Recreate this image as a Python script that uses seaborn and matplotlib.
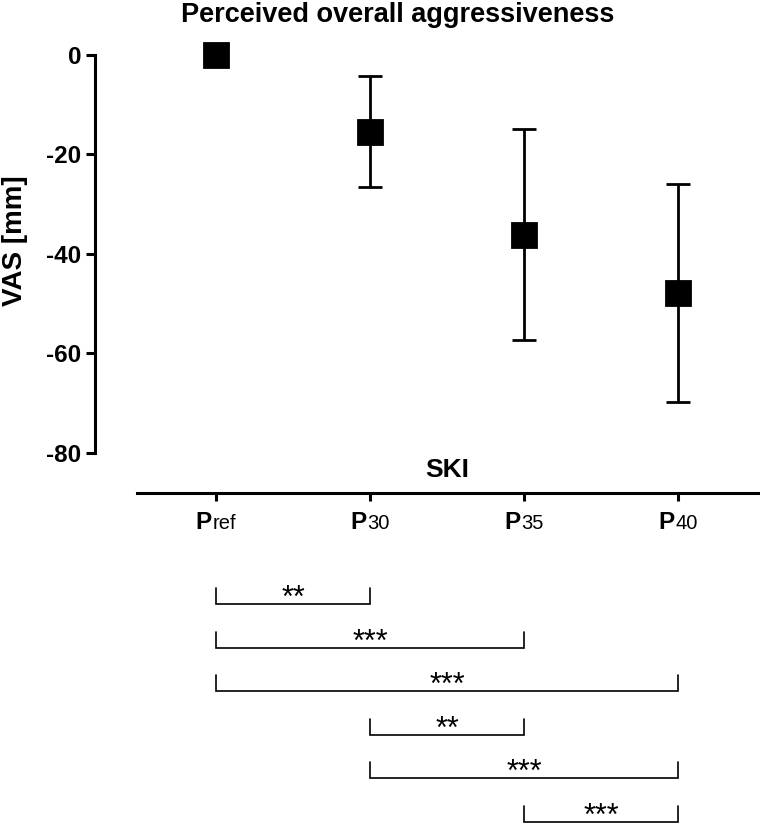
"""
Perceived overall aggressiveness per ski (VAS difference to reference),
with mean +/- SD and pairwise significance brackets below the axis.
"""
import matplotlib
matplotlib.use("Agg")
import matplotlib.pyplot as plt
from matplotlib.offsetbox import AnnotationBbox, HPacker, TextArea
import numpy as np
import pandas as pd
import seaborn as sns

# data
skis = ["Pref", "P30", "P35", "P40"]
label_main = ["P", "P", "P", "P"]
label_sub = ["ref", "30", "35", "40"]
vas_mean = [0.0, -15.4, -36.1, -47.8]
vas_sd = [0.0, 11.1, 21.2, 21.9]
yticks = [0, -20, -40, -60, -80]

# significance comparisons (index pairs into skis)
pairs = [(0, 1), (0, 2), (0, 3), (1, 2), (1, 3), (2, 3)]
stars = ["**", "***", "***", "**", "***", "***"]

sns.set_theme(style="white")
plt.rcParams["font.family"] = ["Liberation Sans", "DejaVu Sans"]

df = pd.DataFrame({"ski": skis, "vas": vas_mean, "sd": vas_sd})

W, H = 760, 832
fig = plt.figure(figsize=(W / 100, H / 100), dpi=100)
fig.patch.set_facecolor("white")

# main axes: 0 at y=55px, -80 at y=453px, categories 154px apart from x=216
px_per_unit = (453 - 55) / 80.0
y_top, y_bot = 5.0, -88.0
top_px = 55 - y_top * px_per_unit
bot_px = 55 - y_bot * px_per_unit
ax = fig.add_axes([95 / W, 1 - bot_px / H, (W - 95) / W, (bot_px - top_px) / H])
ax.set_facecolor("none")

ax.errorbar(np.arange(len(skis)), df["vas"], yerr=df["sd"], fmt="none",
            ecolor="black", elinewidth=2.0, capsize=8.5, capthick=2.0, zorder=2)
sns.pointplot(data=df, x="ski", y="vas", markers="s", linestyle="none",
              color="black", errorbar=None, markersize=17.5, ax=ax, zorder=3)

ax.set_xlim((95 - 216) / 154, (W - 216) / 154)
ax.set_ylim(y_bot, y_top)

for side in ["top", "right"]:
    ax.spines[side].set_visible(False)
ax.spines["left"].set_bounds(min(yticks), max(yticks))
ax.spines["bottom"].set_bounds((137 - 216) / 154, (W - 216) / 154)
for side in ["left", "bottom"]:
    ax.spines[side].set_linewidth(2.2)
    ax.spines[side].set_color("black")

ax.set_yticks(yticks)
ax.set_yticklabels([str(v) for v in yticks])
ax.set_xticks(range(len(skis)))
ax.set_xticklabels([])
ax.tick_params(axis="y", direction="out", length=6.5, width=2.2, pad=3.5,
               labelsize=17.5, colors="black", left=True)
ax.tick_params(axis="x", direction="out", length=6, width=2.2,
               colors="black", bottom=True)
for lab in ax.get_yticklabels():
    lab.set_fontweight("bold")
ax.set_xlabel("")
ax.set_ylabel("")
ax.grid(False)

# x tick labels: bold P with a smaller regular suffix on the same baseline
for i, (m, s) in enumerate(zip(label_main, label_sub)):
    pack = HPacker(children=[
        TextArea(m, textprops=dict(fontsize=17.5, fontweight="bold", color="black")),
        TextArea(s, textprops=dict(fontsize=14.5, color="black")),
    ], align="baseline", pad=0, sep=0.5)
    ab = AnnotationBbox(pack, (i, y_bot), xycoords="data",
                        xybox=(0, -13), boxcoords="offset points",
                        box_alignment=(0.5, 1.0), frameon=False,
                        annotation_clip=False)
    ax.add_artist(ab)

ax.text(1.5, -(470 - 55) / px_per_unit, "SKI", ha="center", va="center",
        fontsize=19, fontweight="bold", color="black")

fig.text(398 / W, 1 - 15 / H, "Perceived overall aggressiveness", ha="center",
         va="center", fontsize=19.5, fontweight="bold", color="black")
fig.text(15 / W, 1 - 241 / H, "VAS [mm]", ha="center", va="center",
         rotation=90, fontsize=20, fontweight="bold", color="black")

# significance brackets in a lower axes using pixel-like y units
br_top = 575
bx = fig.add_axes([95 / W, 0, (W - 95) / W, (H - br_top) / H])
bx.set_xlim(ax.get_xlim())
bx.set_ylim(H, br_top)
bx.axis("off")
first_row, last_row = 604, 822
row_gap = (last_row - first_row) / (len(pairs) - 1)
for i, ((a, b), s) in enumerate(zip(pairs, stars)):
    yy = first_row + i * row_gap
    bx.plot([a, a, b, b], [yy - 16, yy, yy, yy - 16], color="black",
            lw=1.2, solid_joinstyle="miter")
    bx.text((a + b) / 2, yy + 3, s, ha="center", va="baseline",
            fontsize=22, color="black")

fig.savefig("out.png", dpi=100, facecolor="white")
